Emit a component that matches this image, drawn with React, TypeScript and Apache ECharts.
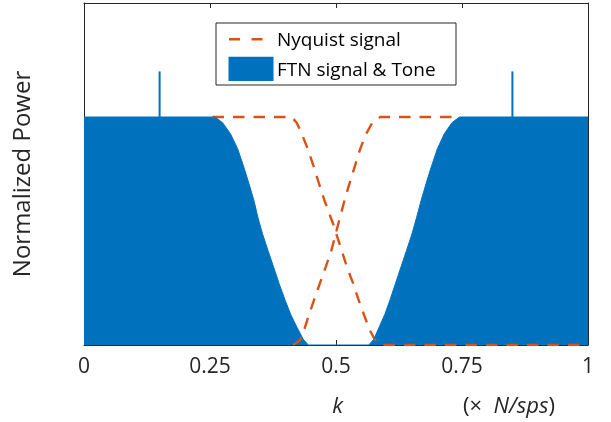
import React, { useEffect, useRef } from "react";
import * as echarts from "echarts";

const xTicks = [0, 0.25, 0.5, 0.75, 1];

// FTN signal power spectrum (filled)
const ftnK = [0, 0.26, 0.275, 0.2905, 0.305, 0.317, 0.327, 0.337, 0.345, 0.354, 0.365, 0.376, 0.387, 0.399, 0.41, 0.422, 0.435, 0.445,
  0.565, 0.575, 0.586, 0.597, 0.607, 0.618, 0.629, 0.64, 0.651, 0.66, 0.669, 0.679, 0.689, 0.701, 0.715, 0.73, 0.745, 1];
const ftnP = [1, 1, 0.975, 0.927, 0.86, 0.781, 0.71, 0.635, 0.56, 0.489, 0.415, 0.343, 0.27, 0.197, 0.135, 0.08, 0.025, 0,
  0, 0.025, 0.08, 0.135, 0.197, 0.27, 0.343, 0.415, 0.489, 0.56, 0.635, 0.71, 0.781, 0.86, 0.927, 0.975, 1, 1];

// Nyquist signal (dashed), falling and rising parts
const nyqFallK = [0.255, 0.412, 0.422, 0.432, 0.444, 0.456, 0.466, 0.477, 0.494, 0.511, 0.522, 0.534, 0.546, 0.557, 0.567, 0.577, 0.59, 1];
const nyqFallP = [1, 1, 0.975, 0.927, 0.86, 0.781, 0.71, 0.635, 0.533, 0.416, 0.34, 0.27, 0.19, 0.124, 0.065, 0.025, 0, 0];
const nyqRiseK = [0.415, 0.428, 0.436, 0.445, 0.456, 0.468, 0.48, 0.491, 0.502, 0.517, 0.527, 0.537, 0.548, 0.56, 0.572, 0.588, 0.745];
const nyqRiseP = [0, 0.02, 0.06, 0.124, 0.195, 0.27, 0.345, 0.416, 0.51, 0.635, 0.71, 0.781, 0.86, 0.927, 0.975, 1, 1];

// Tones
const toneK = [0.15, 0.85];
const toneBase = 1;
const toneTop = 1.2;

const legendNames = ["Nyquist signal", "FTN signal & Tone"];

const BLUE = "#0072BD";
const ORANGE = "#D95319";
const AX = "#262626";
const FONT = "'Open Sans', 'Noto Sans', sans-serif";
const DASH = [11.5, 9];

const zip = (a: number[], b: number[]) => a.map((v, i) => [v, b[i]]);

export default function App() {
  const ref = useRef<HTMLDivElement>(null);
  useEffect(() => {
    if (!ref.current) return;
    const chart = echarts.init(ref.current, null, { renderer: "svg" });
    const dashed = {
      type: "line",
      symbol: "none",
      showSymbol: false,
      lineStyle: { color: ORANGE, width: 2.4, type: DASH },
      itemStyle: { color: ORANGE },
      xAxisIndex: 0,
      yAxisIndex: 0,
    };
    const toneSeries = toneK.map((k) => ({
      name: "Tone",
      type: "line",
      symbol: "none",
      showSymbol: false,
      lineStyle: { color: BLUE, width: 2 },
      itemStyle: { color: BLUE },
      data: [[k, toneBase], [k, toneTop]],
    }));
    const axLine = { show: true, onZero: false, lineStyle: { color: AX, width: 1 } };
    chart.setOption({
      animation: false,
      grid: { left: 81, right: 23, top: 3, bottom: 77 },
      xAxis: [
        {
          type: "value",
          min: 0,
          max: 1,
          interval: 0.25,
          axisLine: axLine,
          axisTick: { show: true, inside: true, length: 5, lineStyle: { color: AX } },
          axisLabel: {
            fontFamily: FONT,
            fontSize: 21,
            color: AX,
            margin: 9,
            formatter: (v: number) => (xTicks.includes(v) ? String(v) : ""),
          },
          splitLine: { show: false },
        },
        {
          type: "value",
          position: "top",
          min: 0,
          max: 1,
          interval: 0.25,
          axisLine: axLine,
          axisTick: { show: true, inside: true, length: 5, lineStyle: { color: AX } },
          axisLabel: { show: false },
          splitLine: { show: false },
        },
      ],
      yAxis: [
        {
          type: "value",
          min: 0,
          max: 1.5,
          name: "Normalized Power",
          nameLocation: "middle",
          nameRotate: 90,
          nameGap: 52,
          nameTextStyle: { fontFamily: FONT, fontSize: 24, color: AX },
          axisLine: axLine,
          axisTick: { show: false },
          axisLabel: { show: false },
          splitLine: { show: false },
        },
        {
          type: "value",
          position: "right",
          min: 0,
          max: 1.5,
          axisLine: axLine,
          axisTick: { show: false },
          axisLabel: { show: false },
          splitLine: { show: false },
        },
      ],
      series: [
        { ...dashed, name: legendNames[0], data: zip(nyqFallK, nyqFallP) },
        { ...dashed, name: legendNames[0] + " (2)", data: zip(nyqRiseK, nyqRiseP) },
        {
          name: legendNames[1],
          type: "line",
          symbol: "none",
          showSymbol: false,
          lineStyle: { color: BLUE, width: 1 },
          itemStyle: { color: BLUE },
          areaStyle: { color: BLUE, opacity: 1 },
          data: zip(ftnK, ftnP),
        },
        ...toneSeries,
      ],
      graphic: [
        {
          type: "rect",
          z: 100,
          shape: { x: 216, y: 23, width: 240, height: 62 },
          style: { fill: "#fff", stroke: AX, lineWidth: 1 },
        },
        {
          type: "line",
          z: 101,
          shape: { x1: 229, y1: 39.3, x2: 262.5, y2: 39.3 },
          style: { stroke: ORANGE, lineWidth: 2.4, lineDash: [11, 11.5] },
        },
        {
          type: "rect",
          z: 101,
          shape: { x: 228.5, y: 56.7, width: 45, height: 24.3 },
          style: { fill: BLUE },
        },
        {
          type: "text",
          z: 101,
          x: 277,
          y: 39.3,
          style: { text: legendNames[0], fontFamily: FONT, fontSize: 19, fill: "#000", verticalAlign: "middle" },
        },
        {
          type: "text",
          z: 101,
          x: 277,
          y: 68.8,
          style: { text: legendNames[1], fontFamily: FONT, fontSize: 19, fill: "#000", verticalAlign: "middle" },
        },
        {
          type: "text",
          z: 101,
          x: 337.5,
          y: 404,
          style: {
            text: "k",
            fontFamily: FONT,
            fontSize: 22,
            fontStyle: "italic",
            fill: AX,
            align: "center",
            verticalAlign: "middle",
          },
        },
        {
          type: "text",
          z: 101,
          x: 509,
          y: 404,
          style: {
            text: "{n|(×  }{i|N/sps}{n|)}",
            align: "center",
            verticalAlign: "middle",
            rich: {
              n: { fontFamily: FONT, fontSize: 22, fill: AX, color: AX },
              i: { fontFamily: FONT, fontSize: 22, fontStyle: "italic", fill: AX, color: AX },
            },
          },
        },
      ],
    });
    return () => chart.dispose();
  }, []);
  return <div ref={ref} style={{ width: 611, height: 422, position: "fixed", left: 0, top: 0 }} />;
}
